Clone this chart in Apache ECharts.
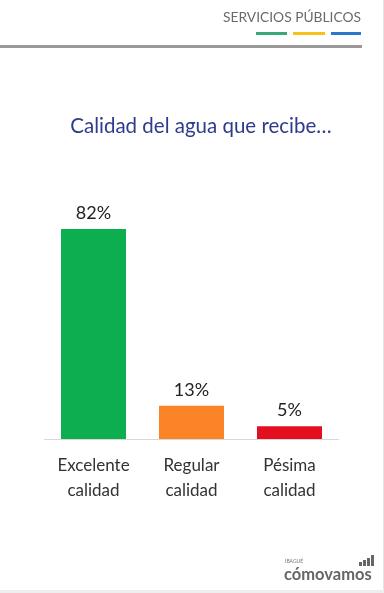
<!DOCTYPE html>
<html><head><meta charset="utf-8">
<script src="https://cdn.jsdelivr.net/npm/echarts@6/dist/echarts.min.js"></script>
<style>html,body{margin:0;padding:0;background:#fff}#c{width:384px;height:593px}</style>
</head><body><div id="c"></div>
<script>
const categories = ['Excelente\ncalidad', 'Regular\ncalidad', 'Pésima\ncalidad'];
const values = [82, 13, 5];
const barColors = ['#0cae50', '#fb8328', '#e30f1f'];
const titleText = 'Calidad del agua que recibe…';
const headerText = 'SERVICIOS PÚBLICOS';

const chart = echarts.init(document.getElementById('c'), null, {renderer: 'canvas'});
chart.setOption({
  animation: false,
  backgroundColor: '#fff',
  grid: {left: 44.5, right: 45.5, top: 183, bottom: 154},
  xAxis: {type: 'category', data: categories,
    axisLine: {lineStyle: {color: '#d8d8d8', width: 1}}, axisTick: {show: false},
    axisLabel: {color: '#333', fontSize: 17, fontFamily: 'Lato', lineHeight: 25, margin: 14}},
  yAxis: {type: 'value', min: 0, max: 100, show: false, splitLine: {show: false}},
  series: [{type: 'bar', barWidth: 65,
    data: values.map((v, i) => ({value: v, itemStyle: {color: barColors[i]}})),
    label: {show: true, position: 'top', distance: 7, formatter: '{c}%', color: '#222', fontSize: 18, fontFamily: 'Lato'}}],
  graphic: [
    {type: 'text', x: 201, y: 126, style: {text: titleText, fill: '#2e3b8c', fontSize: 20.5, fontFamily: 'Lato', align: 'center', verticalAlign: 'middle'}},
    {type: 'text', x: 361, y: 18, style: {text: headerText, fill: '#6a6a6a', fontSize: 13.8, fontFamily: 'Lato', align: 'right', verticalAlign: 'middle'}},
    {type: 'rect', shape: {x: 256, y: 32, width: 31, height: 3}, style: {fill: '#3aa876'}},
    {type: 'rect', shape: {x: 293, y: 32, width: 32, height: 3}, style: {fill: '#f6c21a'}},
    {type: 'rect', shape: {x: 331, y: 32, width: 30, height: 3}, style: {fill: '#2a78c8'}},
    {type: 'rect', shape: {x: 0, y: 45, width: 362, height: 3}, style: {fill: '#999'}},
    {type: 'rect', shape: {x: 383, y: 0, width: 1, height: 593}, style: {fill: '#e6e6e6'}},
    {type: 'rect', shape: {x: 0, y: 590, width: 384, height: 3}, style: {fill: '#eeeeee'}},
    {type: 'text', left: 285, top: 559, style: {text: 'IBAGUÉ', fill: '#777', fontSize: 5, fontFamily: 'Lato'}},
    {type: 'text', left: 284, top: 566, style: {text: 'cómovamos', fill: '#666', fontSize: 16.5, fontWeight: 'bold', fontFamily: 'Lato'}},
    {type: 'rect', shape: {x: 359, y: 562, width: 3, height: 4}, style: {fill: '#666'}},
    {type: 'rect', shape: {x: 363, y: 560, width: 3, height: 6}, style: {fill: '#666'}},
    {type: 'rect', shape: {x: 367, y: 558, width: 3, height: 8}, style: {fill: '#666'}},
    {type: 'rect', shape: {x: 371, y: 555, width: 3, height: 11}, style: {fill: '#666'}}
  ]
});
</script></body></html>
